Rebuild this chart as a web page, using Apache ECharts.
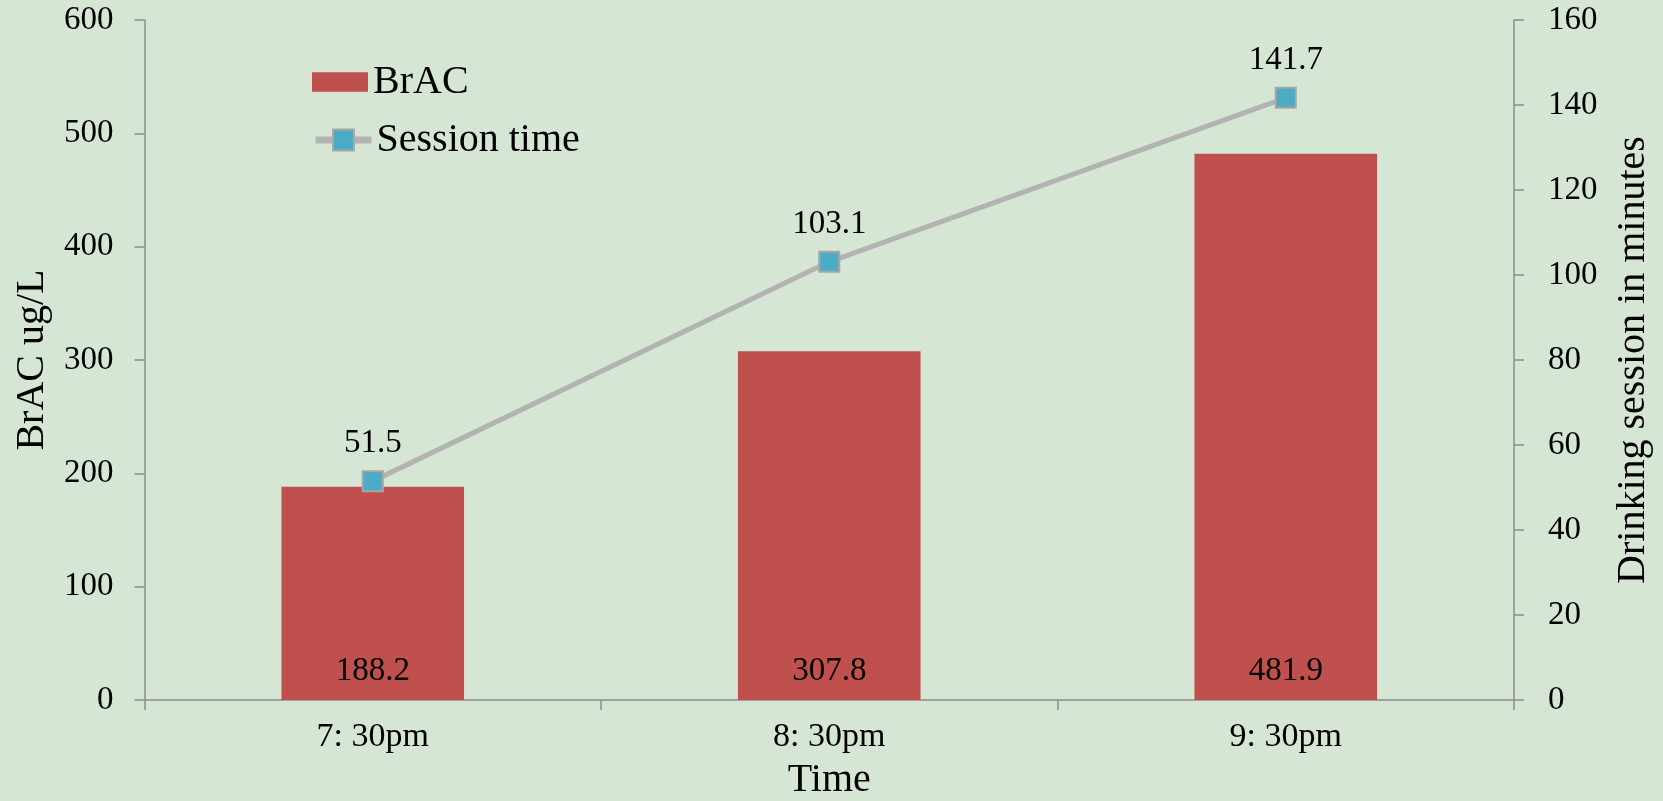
<!DOCTYPE html>
<html>
<head>
<meta charset="utf-8">
<script src="https://cdn.jsdelivr.net/npm/echarts@6/dist/echarts.min.js"></script>
<style>
html,body{margin:0;padding:0;background:#D6E6D4;}
#chart{width:1663px;height:801px;}
</style>
</head>
<body>
<div id="chart"></div>
<script>
const categories = ['7: 30pm', '8: 30pm', '9: 30pm'];
const bracValues = [188.2, 307.8, 481.9];
const sessionValues = [51.5, 103.1, 141.7];
const leftTicks = { min: 0, max: 600, interval: 100 };
const rightTicks = { min: 0, max: 160, interval: 20 };

const FONT = "'Liberation Serif', 'Times New Roman', serif";
const axisColor = '#8C8C8C';

const chart = echarts.init(document.getElementById('chart'), null, { renderer: 'canvas' });
chart.setOption({
  backgroundColor: '#D6E6D4',
  animation: false,
  textStyle: { fontFamily: FONT, color: '#000' },
  grid: { left: 144.5, right: 149, top: 20, bottom: 101, containLabel: false, outerBoundsMode: 'none' },
  legend: [
    {
      orient: 'vertical',
      left: 312,
      top: 62,
      padding: 0,
      itemWidth: 56,
      itemHeight: 20,
      textStyle: { fontFamily: FONT, fontSize: 40, color: '#000' },
      data: [
        { name: 'BrAC', icon: 'path://M2,1 L54,1 L54,19 L2,19 Z', itemStyle: { color: '#C0504D', borderWidth: 0 } }
      ]
    },
    {
      orient: 'vertical',
      left: 312,
      top: 120,
      padding: 0,
      itemWidth: 56,
      itemHeight: 26,
      textStyle: { fontFamily: FONT, fontSize: 40, color: '#000' },
      lineStyle: { width: 7, color: '#B3B3B3' },
      data: [{ name: 'Session time' }]
    }
  ],
  xAxis: {
    type: 'category',
    data: categories,
    name: 'Time',
    nameLocation: 'middle',
    nameGap: 60,
    nameTextStyle: { fontFamily: FONT, fontSize: 40, color: '#000' },
    axisLine: { lineStyle: { color: axisColor, width: 1.5 } },
    axisTick: { show: true, length: 10, inside: false, alignWithLabel: false, lineStyle: { color: axisColor, width: 1.5 } },
    axisLabel: { fontFamily: FONT, fontSize: 34, color: '#000', margin: 20 },
    splitLine: { show: false }
  },
  yAxis: [
    {
      type: 'value',
      min: leftTicks.min, max: leftTicks.max, interval: leftTicks.interval,
      name: 'BrAC ug/L',
      nameLocation: 'middle',
      nameRotate: 90,
      nameGap: 92,
      nameTextStyle: { fontFamily: FONT, fontSize: 40, color: '#000' },
      axisLine: { show: true, lineStyle: { color: axisColor, width: 1.5 } },
      axisTick: { show: true, length: 10, lineStyle: { color: axisColor, width: 1.5 } },
      axisLabel: { fontFamily: FONT, fontSize: 33, color: '#000', margin: 31 },
      splitLine: { show: false }
    },
    {
      type: 'value',
      position: 'right',
      min: rightTicks.min, max: rightTicks.max, interval: rightTicks.interval,
      name: 'Drinking session in minutes',
      nameLocation: 'middle',
      nameRotate: 90,
      nameGap: 99,
      nameTextStyle: { fontFamily: FONT, fontSize: 40, color: '#000' },
      axisLine: { show: true, lineStyle: { color: axisColor, width: 1.5 } },
      axisTick: { show: true, length: 10, lineStyle: { color: axisColor, width: 1.5 } },
      axisLabel: { fontFamily: FONT, fontSize: 33, color: '#000', margin: 34 },
      splitLine: { show: false }
    }
  ],
  series: [
    {
      name: 'BrAC',
      type: 'bar',
      yAxisIndex: 0,
      data: bracValues,
      barWidth: '40%',
      itemStyle: { color: '#C0504D' },
      label: {
        show: true,
        position: 'insideBottom',
        distance: 12,
        fontFamily: FONT,
        fontSize: 33,
        color: '#000',
        formatter: p => p.value.toFixed(1)
      }
    },
    {
      name: 'Session time',
      type: 'line',
      yAxisIndex: 1,
      data: sessionValues,
      symbol: 'rect',
      symbolSize: 20,
      lineStyle: { color: '#B3B3B3', width: 5 },
      itemStyle: { color: '#4BACC6', borderColor: '#A6A6A6', borderWidth: 2 },
      label: {
        show: true,
        position: 'top',
        distance: 10,
        fontFamily: FONT,
        fontSize: 33,
        color: '#000',
        formatter: p => p.value.toFixed(1)
      },
      z: 5
    }
  ]
});
</script>
</body>
</html>
